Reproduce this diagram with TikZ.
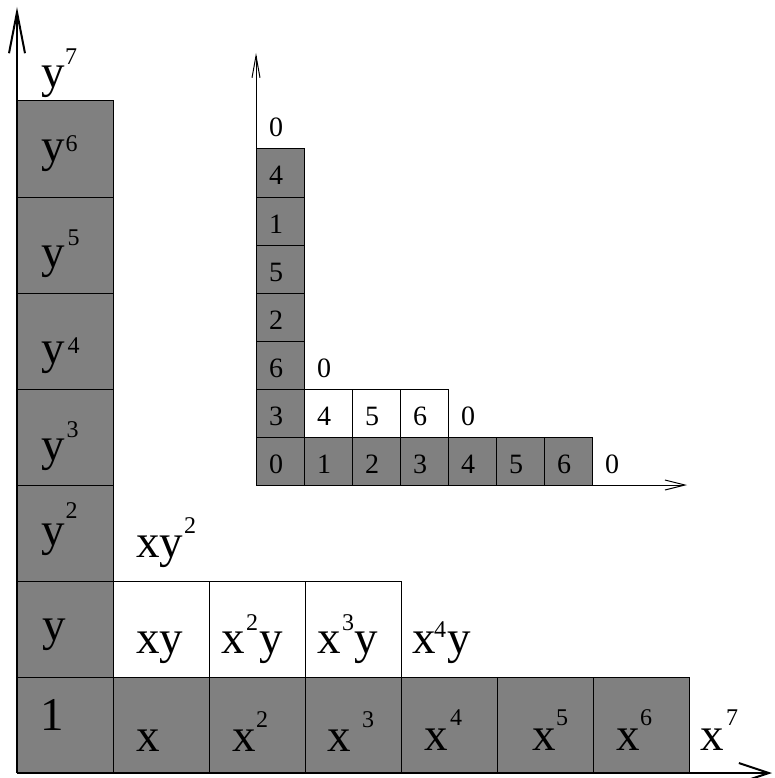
\documentclass[tikz,border=0pt]{standalone}
\usepackage{fontspec}
\setmainfont{Liberation Serif}
\usetikzlibrary{arrows.meta}
\newcommand\expo[3]{\hspace*{#1pt}\raisebox{#2pt}{\fontsize{24}{24}\selectfont #3}}
\definecolor{cellgray}{HTML}{808080}
\tikzset{
  gcell/.style={fill=cellgray,draw=black,line width=1pt},
  wcell/.style={fill=white,draw=black,line width=1pt},
  big/.style={anchor=base west,inner sep=0pt,font=\fontsize{47}{47}\selectfont},
  small/.style={anchor=base,inner sep=0pt,font=\fontsize{28}{28}\selectfont},
  bigaxis/.style={line width=2pt},
  smallaxis/.style={line width=1pt}
}
\begin{document}
\begin{tikzpicture}[x=1pt,y=-1pt]
\useasboundingbox (0,0) rectangle (775,778);
% ---------- big grid ----------
\def\bs{96}
\foreach \i in {0,...,6}{
  \draw[gcell] (17,{773-\i*\bs}) rectangle (17+\bs,{773-(\i+1)*\bs});
}
\foreach \i in {1,...,6}{
  \draw[gcell] ({17+\i*\bs},773) rectangle ({17+(\i+1)*\bs},773-\bs);
}
\foreach \i in {1,...,3}{
  \draw[wcell] ({17+\i*\bs},773-\bs) rectangle ({17+(\i+1)*\bs},773-2*\bs);
}
% big axes
\coordinate (O) at (17,773);
\coordinate (Ytip) at (17,7);
\coordinate (Xtip) at (772,773);
\draw[bigaxis,-{Straight Barb[length=41pt,width=16pt,line width=2pt]}] (O) -- (Ytip);
\draw[bigaxis,-{Straight Barb[length=30pt,width=20pt,line width=2pt]}] (O) -- (Xtip);
% big labels
\node[big] (ly7) at (41,88) {y\expo{0.5}{23}{7}};
\node[big] (ly6) at (41,162) {y\expo{1}{10}{6}};
\node[big] (ly5) at (41,267) {y\expo{3}{22}{5}};
\node[big] (ly4) at (41,363) {y\expo{3}{10}{4}};
\node[big] (ly3) at (41,460) {y\expo{2}{23}{3}};
\node[big] (ly2) at (41,545) {y\expo{1}{27}{2}};
\node[big] (ly1) at (42,640) {y};
\node[big] (lone) at (40,730) {1};
\node[big] (lx1) at (136,751) {x};
\node[big] (lx2) at (232,751) {x\expo{0.5}{24}{2}};
\node[big] (lx3) at (327,751) {x\expo{11.5}{24}{3}};
\node[big] (lx4) at (424,750) {x\expo{2.5}{25}{4}};
\node[big] (lx5) at (532,750) {x\expo{0.5}{25}{5}};
\node[big] (lx6) at (616,750) {x\expo{0.5}{25}{6}};
\node[big] (lx7) at (700,750) {x\expo{2.5}{25}{7}};
\node[big] (lxy) at (136,653) {xy};
\node[big] (lx2y) at (221,653) {x\expo{1.5}{23}{2}\hspace*{1pt}y};
\node[big] (lx3y) at (317,653) {x\expo{1.5}{23}{3}y};
\node[big] (lx4y) at (412,653) {x\expo{-1.5}{16}{4}\hspace*{1pt}y};
\node[big] (lxy2) at (136,557) {xy\expo{1}{24}{2}};
% ---------- small grid ----------
\def\ss{48}
\foreach \i in {0,...,6}{
  \draw[gcell] (256,{485-\i*\ss}) rectangle (256+\ss,{485-(\i+1)*\ss});
}
\foreach \i in {1,...,6}{
  \draw[gcell] ({256+\i*\ss},485) rectangle ({256+(\i+1)*\ss},485-\ss);
}
\foreach \i in {1,...,3}{
  \draw[wcell] ({256+\i*\ss},485-\ss) rectangle ({256+(\i+1)*\ss},485-2*\ss);
}
\coordinate (o) at (256,485);
\coordinate (ytip) at (256,53);
\coordinate (xtip) at (687,485);
\draw[smallaxis,-{Straight Barb[length=22pt,width=8pt,line width=1pt]}] (o) -- (ytip);
\draw[smallaxis,-{Straight Barb[length=20pt,width=10pt,line width=1pt]}] (o) -- (xtip);
% small digits: column
\foreach \d [count=\k from 0] in {0,3,6,2,5,1,4,0}{
  \node[small] (c\k) at (276,{473-\k*\ss}) {\d};
}
% bottom row
\foreach \d [count=\k from 1] in {1,2,3,4,5,6,0}{
  \node[small] (r\k) at ({276+\k*\ss},473) {\d};
}
% second row
\foreach \d [count=\k from 1] in {4,5,6,0}{
  \node[small] (s\k) at ({276+\k*\ss},425) {\d};
}
% third row
\node[small] (t1) at (324,377) {0};
\end{tikzpicture}
\end{document}
